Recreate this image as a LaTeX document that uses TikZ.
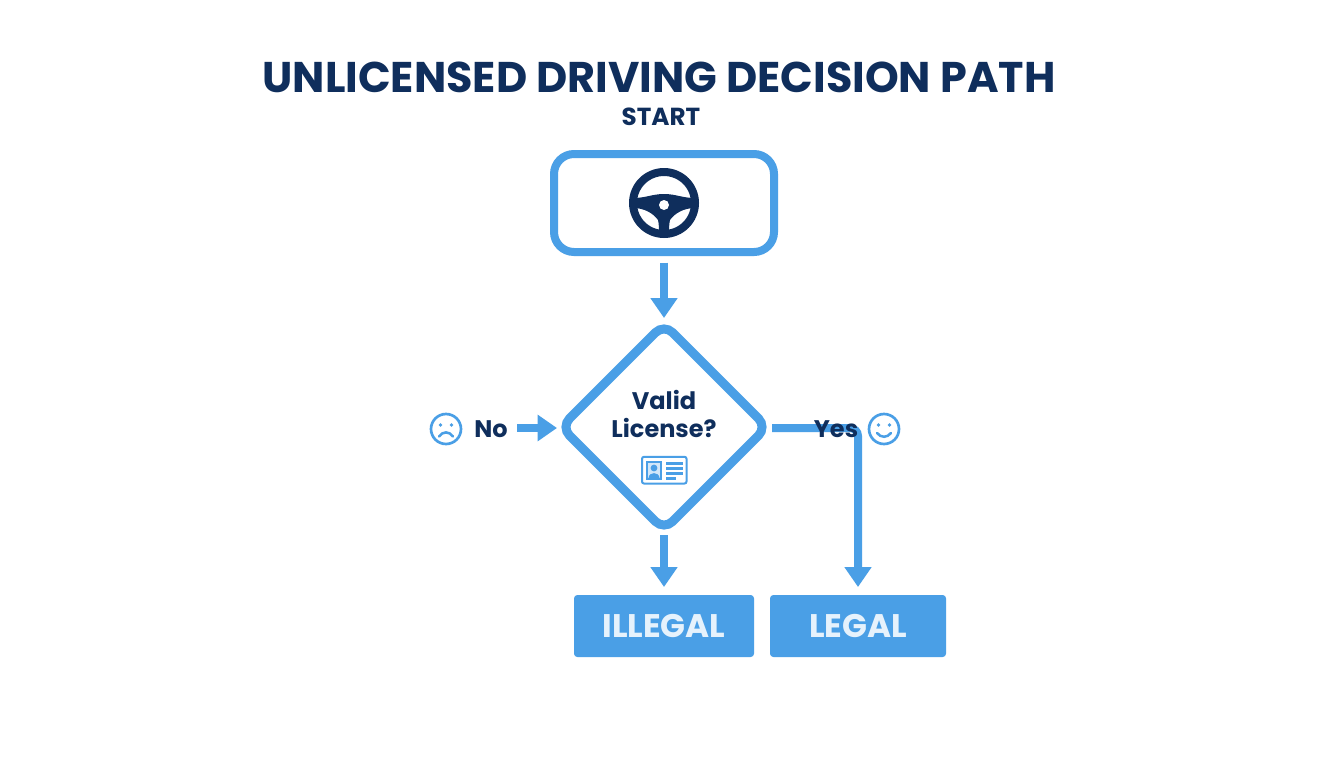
\documentclass[tikz,border=0pt]{standalone}
\usepackage{fontspec}
\setmainfont{Poppins}
\usetikzlibrary{arrows.meta,shapes.geometric}
\definecolor{bluem}{HTML}{4A9FE6}
\definecolor{navy}{HTML}{0F2E5C}
\definecolor{lighttxt}{HTML}{E6F2FC}
\tikzset{
  flowline/.style={draw=bluem,line width=6pt,-{Triangle[width=19.5pt,length=15pt]}},
  smallarrow/.style={draw=bluem,line width=6.5pt,-{Triangle[width=19pt,length=14.5pt]}},
  startbox/.style={draw=bluem,line width=6pt,rounded corners=15pt,minimum width=165pt,minimum height=73.5pt,outer sep=0pt,inner sep=0pt},
  decision/.style={diamond,aspect=1,draw=bluem,line width=6.75pt,rounded corners=9pt,minimum width=154.5pt,minimum height=154.5pt,outer sep=0pt,inner sep=0pt},
  result/.style={fill=bluem,rounded corners=2.5pt,minimum height=46.5pt,outer sep=0pt,inner sep=0pt,text=lighttxt,font=\fontsize{24.5}{26}\selectfont\bfseries},
  darklabel/.style={text=navy,inner sep=0pt,font=\fontsize{18}{20}\selectfont\bfseries},
  faceline/.style={draw=bluem,line width=1.9pt,line cap=round},
}
\begin{document}
\begin{tikzpicture}[x=0.75pt,y=-0.75pt]
\useasboundingbox (0,0) rectangle (1344,768);
\fill[white] (0,0) rectangle (1344,768);
\node[text=navy,inner sep=0pt,font=\fontsize{32.2}{36}\selectfont\bfseries] (title) at (659,77) {UNLICENSED DRIVING DECISION PATH};
\node[text=navy,inner sep=0pt,font=\fontsize{18.5}{20}\selectfont\bfseries] (startlab) at (661,117) {START};
\node[startbox] (start) at (664,203) {};
\node[decision] (dec) at (664,427) {};
\node[result,minimum width=135pt] (illegal) at (664,626) {ILLEGAL};
\node[result,minimum width=132pt] (legal) at (858,626) {LEGAL};
\node[darklabel] (q1) at (664,400) {Valid};
\node[darklabel] (q2) at (664,428) {License?};
\node[darklabel] (no) at (491,429) {No};
\coordinate (noend) at (557,428);
\coordinate (nostart) at (517,428);
\coordinate (yesstart) at (772,428);
% connectors
\draw[flowline,shorten <=8pt,shorten >=4.5pt] (start.south) -- (dec.north);
\draw[flowline,shorten >=6pt,shorten <=4pt] (dec.south) -- (illegal.north);
\draw[smallarrow] (nostart) -- (noend);
\draw[flowline,rounded corners=6pt,shorten >=6pt] (yesstart) -- (yesstart -| legal.north) -- (legal.north);
\node[darklabel] (yes) at (836,429) {Yes};
% wheel
\begin{scope}[shift={(664,203)}]
\draw[navy,line width=6pt] (0,0) circle (31);
\fill[navy] (-31,-5) .. controls (-18,-5) and (-12,-9) .. (0,-9) .. controls (12,-9) and (18,-5) .. (31,-5) -- (31,5) .. controls (20,5) and (11,10) .. (6,17) .. controls (5,21) and (5,26) .. (5,31) -- (-5,31) .. controls (-5,26) and (-5,21) .. (-6,17) .. controls (-11,10) and (-20,5) .. (-31,5) -- cycle;
\fill[white] (0,2) circle (5);
\end{scope}
% licence card
\begin{scope}[shift={(641,456)}]
\draw[bluem,line width=1.5pt,rounded corners=1.5pt] (1,0.8) rectangle (45.5,27.5);
\draw[bluem,fill=bluem!25,line width=1.4pt] (6,6) rectangle (20,23);
\fill[bluem] (13,12) circle (3.4);
\fill[bluem] (7.5,22) .. controls (8,15.5) and (18,15.5) .. (18.5,22) -- cycle;
\draw[bluem,line width=1.6pt] (25,7.5) -- (41.5,7.5) (25,12.5) -- (41.5,12.5) (25,17.5) -- (41.5,17.5) (25,22.5) -- (35,22.5);
\end{scope}
% sad face
\begin{scope}[shift={(446,429)}]
\draw[bluem,line width=2pt] (0,0) circle (15);
\fill[bluem] (-5.5,-4) circle (1.8) (5.5,-4) circle (1.8);
\draw[faceline] (-7,7.5) .. controls (-3,2) and (3,2) .. (7,7.5);
\end{scope}
% happy face
\begin{scope}[shift={(884,429)}]
\draw[bluem,line width=2pt] (0,0) circle (15);
\fill[bluem] (-5.5,-4) circle (1.8) (5.5,-4) circle (1.8);
\draw[faceline] (-7,4) .. controls (-3,9) and (3,9) .. (7,4);
\end{scope}
\end{tikzpicture}
\end{document}
